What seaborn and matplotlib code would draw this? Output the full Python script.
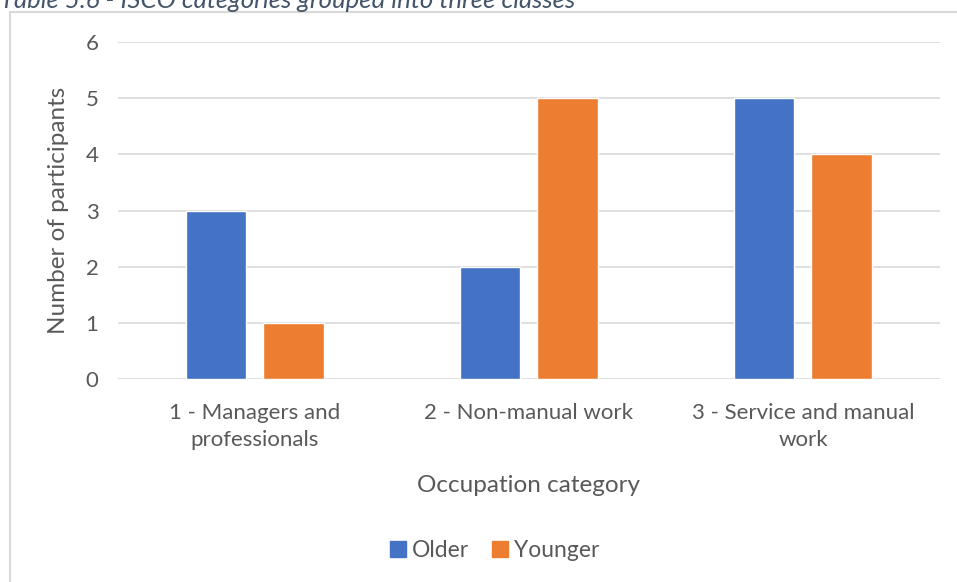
import matplotlib
matplotlib.use("Agg")
import matplotlib.pyplot as plt
import seaborn as sns
import pandas as pd
from matplotlib.patches import Rectangle

# chart values
categories = ["1 - Managers and\nprofessionals", "2 - Non-manual work", "3 - Service and manual\nwork"]
older = [3, 2, 5]
younger = [1, 5, 4]
groups = ["Older", "Younger"]
colors = {"Older": "#4472C4", "Younger": "#ED7D31"}

df = pd.DataFrame({
    "category": categories * 2,
    "group": ["Older"] * 3 + ["Younger"] * 3,
    "count": older + younger,
})

sns.set_style("white")
plt.rcParams["font.family"] = ["Lato", "DejaVu Sans"]
text_col = "#595959"

fig = plt.figure(figsize=(9.57, 5.82), dpi=100)
ax = fig.add_axes([0.1233, 0.3488, 0.8589, 0.579])

sns.barplot(data=df, x="category", y="count", hue="group", hue_order=groups,
            palette=colors, saturation=1, width=0.569, gap=0.218, ax=ax, legend=False)

ax.set_ylim(0, 6)
ax.set_xlim(-0.5, 2.5)
ax.set_yticks(range(7))
ax.yaxis.grid(True, color="#D9D9D9", linewidth=1.2)
ax.set_axisbelow(True)
for s in ax.spines.values():
    s.set_visible(False)
ax.tick_params(axis="both", length=0, labelsize=16, colors=text_col)
ax.tick_params(axis="x", pad=17)
ax.tick_params(axis="y", pad=14)
for lbl in ax.get_xticklabels():
    lbl.set_linespacing(1.45)
ax.set_xlabel("Occupation category", fontsize=17.5, color=text_col, labelpad=18)
ax.set_ylabel("Number of participants", fontsize=17.5, color=text_col, labelpad=12)

# legend
handles = [Rectangle((0, 0), 1, 1, color=colors[g]) for g in groups]
fig.legend(handles, groups, loc="center", bbox_to_anchor=(0.517, 0.054), ncol=2,
           frameon=False, handlelength=0.7, handleheight=0.7, handletextpad=0.25,
           columnspacing=1.0, prop={"size": 16.5}, labelcolor=text_col)

# chart frame
fig.patches.append(Rectangle((10 / 957, -0.05), 1.0, 1 - 12 / 582 + 0.05,
                             transform=fig.transFigure, fill=False,
                             edgecolor="#D9D9D9", linewidth=1.5))

# caption, partly cut off at the top as in the source
fig.text(0.0, 1 - 8 / 582, "Table 5.6 - ISCO categories grouped into three classes",
         fontsize=18.5, style="italic", color="#44546A", va="baseline", ha="left")

fig.savefig("out.png", dpi=100)
